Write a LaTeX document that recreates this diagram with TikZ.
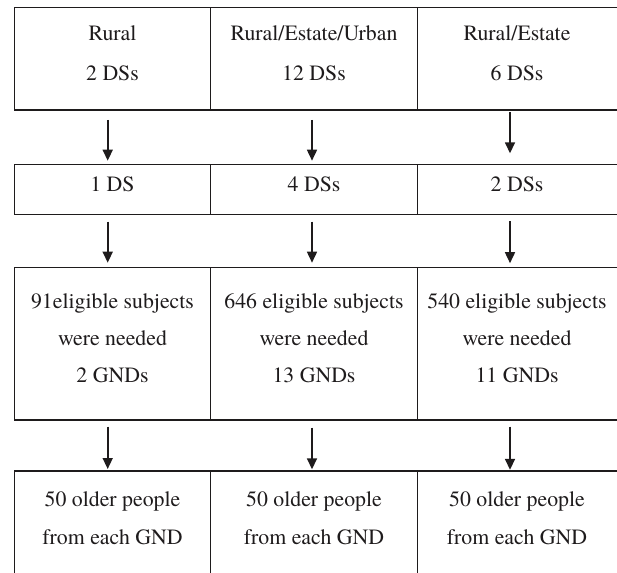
\documentclass[tikz,border=0pt]{standalone}
\usepackage{fontspec}
\setmainfont{texgyretermes}[Extension=.otf, UprightFont=*-regular, BoldFont=*-bold, ItalicFont=*-italic, BoldItalicFont=*-bolditalic]
\usetikzlibrary{arrows.meta}
\definecolor{ink}{RGB}{30,27,28}
\newcommand{\celltext}[1]{\begin{tabular}[t]{@{}c@{}}#1\end{tabular}}
\begin{document}
\begin{tikzpicture}[x=1pt,y=-1pt,
  cell/.style={draw=ink, line width=1.45pt, rectangle, inner sep=0pt, outer sep=0pt, anchor=north west},
  txt/.style={anchor=base, text=ink, inner sep=0pt, font=\rmfamily\fontsize{21.8}{37.3}\selectfont},
  txtone/.style={txt, font=\rmfamily\fontsize{21.8}{40}\selectfont},
  arr/.style={draw=ink, line width=1.6pt, -{Triangle[length=11pt,width=10pt]}}]
\useasboundingbox (0,0) rectangle (617,572);
% row 1
\node[cell, minimum width=196pt, minimum height=102.7pt] (c11) at (14.5,7.3) {};
\node[cell, minimum width=206.8pt, minimum height=102.7pt] (c12) at (210.5,7.3) {};
\node[cell, minimum width=203pt, minimum height=102.7pt] (c13) at (417.3,7.3) {};
% row 2
\node[cell, minimum width=196pt, minimum height=50pt] (c21) at (14.5,164.3) {};
\node[cell, minimum width=206.8pt, minimum height=50pt] (c22) at (210.5,164.3) {};
\node[cell, minimum width=203pt, minimum height=50pt] (c23) at (417.3,164.3) {};
% row 3
\node[cell, minimum width=196pt, minimum height=152.3pt] (c31) at (14.5,267.7) {};
\node[cell, minimum width=206.8pt, minimum height=152.3pt] (c32) at (210.5,267.7) {};
\node[cell, minimum width=203pt, minimum height=152.3pt] (c33) at (417.3,267.7) {};
% row 4
\node[cell, minimum width=196pt, minimum height=112pt] (c41) at (14.5,471) {};
\node[cell, minimum width=206.8pt, minimum height=112pt] (c42) at (210.5,471) {};
\node[cell, minimum width=203pt, minimum height=112pt] (c43) at (417.3,471) {};
% texts
\node[txtone] (t11) at (112.5,41) {\celltext{Rural\\2 DSs}};
\node[txtone] (t12) at (314,41) {\celltext{Rural/Estate/Urban\\12 DSs}};
\node[txtone] (t13) at (517,41) {\celltext{Rural/Estate\\6 DSs}};
\node[txt] (t21) at (112.5,191.7) {\celltext{1 DS}};
\node[txt] (t22) at (314,191.7) {\celltext{4 DSs}};
\node[txt] (t23) at (517,191.7) {\celltext{2 DSs}};
\node[txt] (t31) at (112.5,308.3) {\celltext{91eligible subjects\\were needed\\2 GNDs}};
\node[txt] (t32) at (314,308.3) {\celltext{646 eligible subjects\\were needed\\13 GNDs}};
\node[txt] (t33) at (517,308.3) {\celltext{540 eligible subjects\\were needed\\11 GNDs}};
\node[txt] (t41) at (112.5,506.7) {\celltext{50 older people\\from each GND}};
\node[txt] (t42) at (314,506.7) {\celltext{50 older people\\from each GND}};
\node[txt] (t43) at (517,506.7) {\celltext{50 older people\\from each GND}};
% arrows row 1 -> 2
\draw[arr, shorten <=10pt, shorten >=3.6pt] ([xshift=-4.8pt]c11.south) -- ([xshift=-4.8pt]c21.north);
\draw[arr, shorten <=10pt, shorten >=3.6pt] ([xshift=-1.9pt]c12.south) -- ([xshift=-1.9pt]c22.north);
\draw[arr, shorten <=2.3pt, shorten >=11pt] ([xshift=-8.8pt]c13.south) -- ([xshift=-8.8pt]c23.north);
% arrows row 2 -> 3
\draw[arr, shorten <=7.4pt, shorten >=5pt] ([xshift=-4.8pt]c21.south) -- ([xshift=-4.8pt]c31.north);
\draw[arr, shorten <=7.4pt, shorten >=5pt] ([xshift=-1.9pt]c22.south) -- ([xshift=-1.9pt]c32.north);
\draw[arr, shorten <=7pt, shorten >=4.5pt] ([xshift=-8.8pt]c23.south) -- ([xshift=-8.8pt]c33.north);
% arrows row 3 -> 4
\draw[arr, shorten <=6.7pt, shorten >=2pt] ([xshift=-4.8pt]c31.south) -- ([xshift=-4.8pt]c41.north);
\draw[arr, shorten <=7.5pt, shorten >=1.7pt] ([xshift=-1.9pt]c32.south) -- ([xshift=-1.9pt]c42.north);
\draw[arr, shorten <=6.7pt, shorten >=1.2pt] ([xshift=-8.8pt]c33.south) -- ([xshift=-8.8pt]c43.north);
\end{tikzpicture}
\end{document}
